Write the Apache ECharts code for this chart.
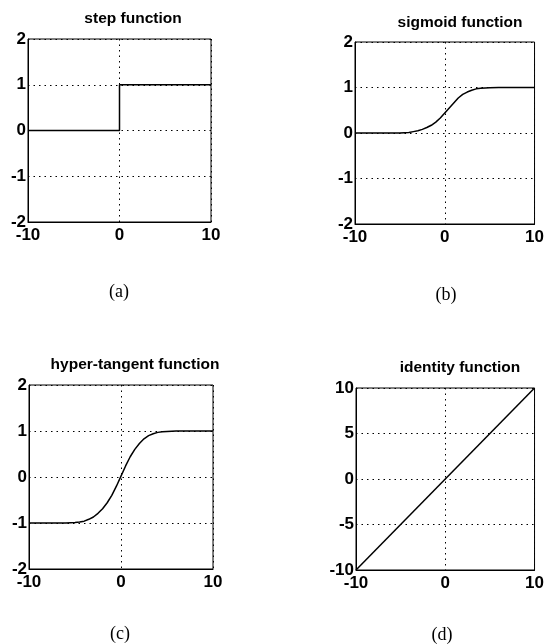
<!DOCTYPE html>
<html>
<head>
<meta charset="utf-8">
<script src="https://cdn.jsdelivr.net/npm/echarts@6/dist/echarts.min.js"></script>
<style>
html,body{margin:0;padding:0;background:#fff;}
#chart{width:547px;height:644px;}
</style>
</head>
<body>
<div id="chart"></div>
<script>
// ---- data ----
const titles = ['step function', 'sigmoid function', 'hyper-tangent function', 'identity function'];
const panelLabels = ['(a)', '(b)', '(c)', '(d)'];
const xTicks = [-10, 0, 10];
const yTicksUnit = [-2, -1, 0, 1, 2];
const yTicksIdentity = [-10, -5, 0, 5, 10];

const stepX = [-10, 0, 0, 10];
const stepY = [0, 0, 1, 1];

const curveX = [-10,-8,-6,-5,-4.5,-4,-3.5,-3,-2.5,-2,-1.5,-1,-0.5,0,0.5,1,1.5,2,2.5,3,3.5,4,4.5,5,6,8,10];
const sigmoidY = [0,0,0,0,0.005,0.01,0.03,0.05,0.08,0.12,0.17,0.24,0.33,0.44,0.55,0.66,0.77,0.85,0.9,0.94,0.97,0.985,0.99,0.995,1,1,1];
const tanhY = [-1,-1,-1,-0.99,-0.98,-0.96,-0.92,-0.87,-0.79,-0.69,-0.56,-0.4,-0.2,0.02,0.24,0.44,0.6,0.73,0.83,0.9,0.94,0.97,0.985,0.99,1,1,1];

const identityX = [-10, 10];
const identityY = [-10, 10];

// ---- layout ----
const grids = [
  {left: 28, top: 39, width: 183, height: 183},
  {left: 355, top: 42, width: 184, height: 182},
  {left: 29, top: 385, width: 184, height: 184},
  {left: 356, top: 388, width: 183, height: 182}
];
const titlePos = [[133, 11], [460, 15], [135, 357], [460, 360]];
const labelPos = [[119, 292], [446, 295], [120, 634], [442, 635]];

const zip = (xs, ys) => xs.map((x, i) => [x, ys[i]]);
const seriesData = [zip(stepX, stepY), zip(curveX, sigmoidY), zip(curveX, tanhY), zip(identityX, identityY)];
const yRanges = [yTicksUnit, yTicksUnit, yTicksUnit, yTicksIdentity];

const axisFont = {color: '#000', fontSize: 17, fontFamily: 'Liberation Sans', fontWeight: 'bold'};
const dotted = {show: true, lineStyle: {color: '#000', type: [1.5, 4], width: 1}};

const option = {
  animation: false,
  backgroundColor: '#fff',
  title: titles.map((t, i) => ({
    text: t, left: titlePos[i][0], top: titlePos[i][1], textAlign: 'center', padding: 0,
    textStyle: {color: '#000', fontSize: 15.5, fontWeight: 'bold', fontFamily: 'Liberation Sans'}
  })),
  grid: grids.map(g => Object.assign({show: true, borderColor: '#000', borderWidth: 1, backgroundColor: 'transparent', containLabel: false}, g)),
  xAxis: grids.map((g, i) => ({
    type: 'value', gridIndex: i, min: xTicks[0], max: xTicks[xTicks.length - 1], interval: xTicks[1] - xTicks[0],
    axisLine: {show: true, onZero: false, lineStyle: {color: '#000', width: 1}},
    axisTick: {show: false},
    axisLabel: Object.assign({margin: 5}, axisFont),
    splitLine: dotted
  })),
  yAxis: grids.map((g, i) => ({
    type: 'value', gridIndex: i, min: yRanges[i][0], max: yRanges[i][yRanges[i].length - 1], interval: yRanges[i][1] - yRanges[i][0],
    axisLine: {show: true, onZero: false, lineStyle: {color: '#000', width: 1}},
    axisTick: {show: false},
    axisLabel: Object.assign({margin: 2}, axisFont),
    splitLine: dotted
  })),
  series: seriesData.map((d, i) => ({
    type: 'line', xAxisIndex: i, yAxisIndex: i, data: d, showSymbol: false, smooth: false,
    lineStyle: {color: '#000', width: 1.5}, z: 5
  })),
  graphic: panelLabels.map((t, i) => ({
    type: 'text', x: labelPos[i][0], y: labelPos[i][1],
    style: {text: t, fill: '#000', font: '18px "Liberation Serif"', textAlign: 'center', textVerticalAlign: 'middle'}
  }))
};

const chart = echarts.init(document.getElementById('chart'), null, {renderer: 'canvas'});
chart.setOption(option);
</script>
</body>
</html>
